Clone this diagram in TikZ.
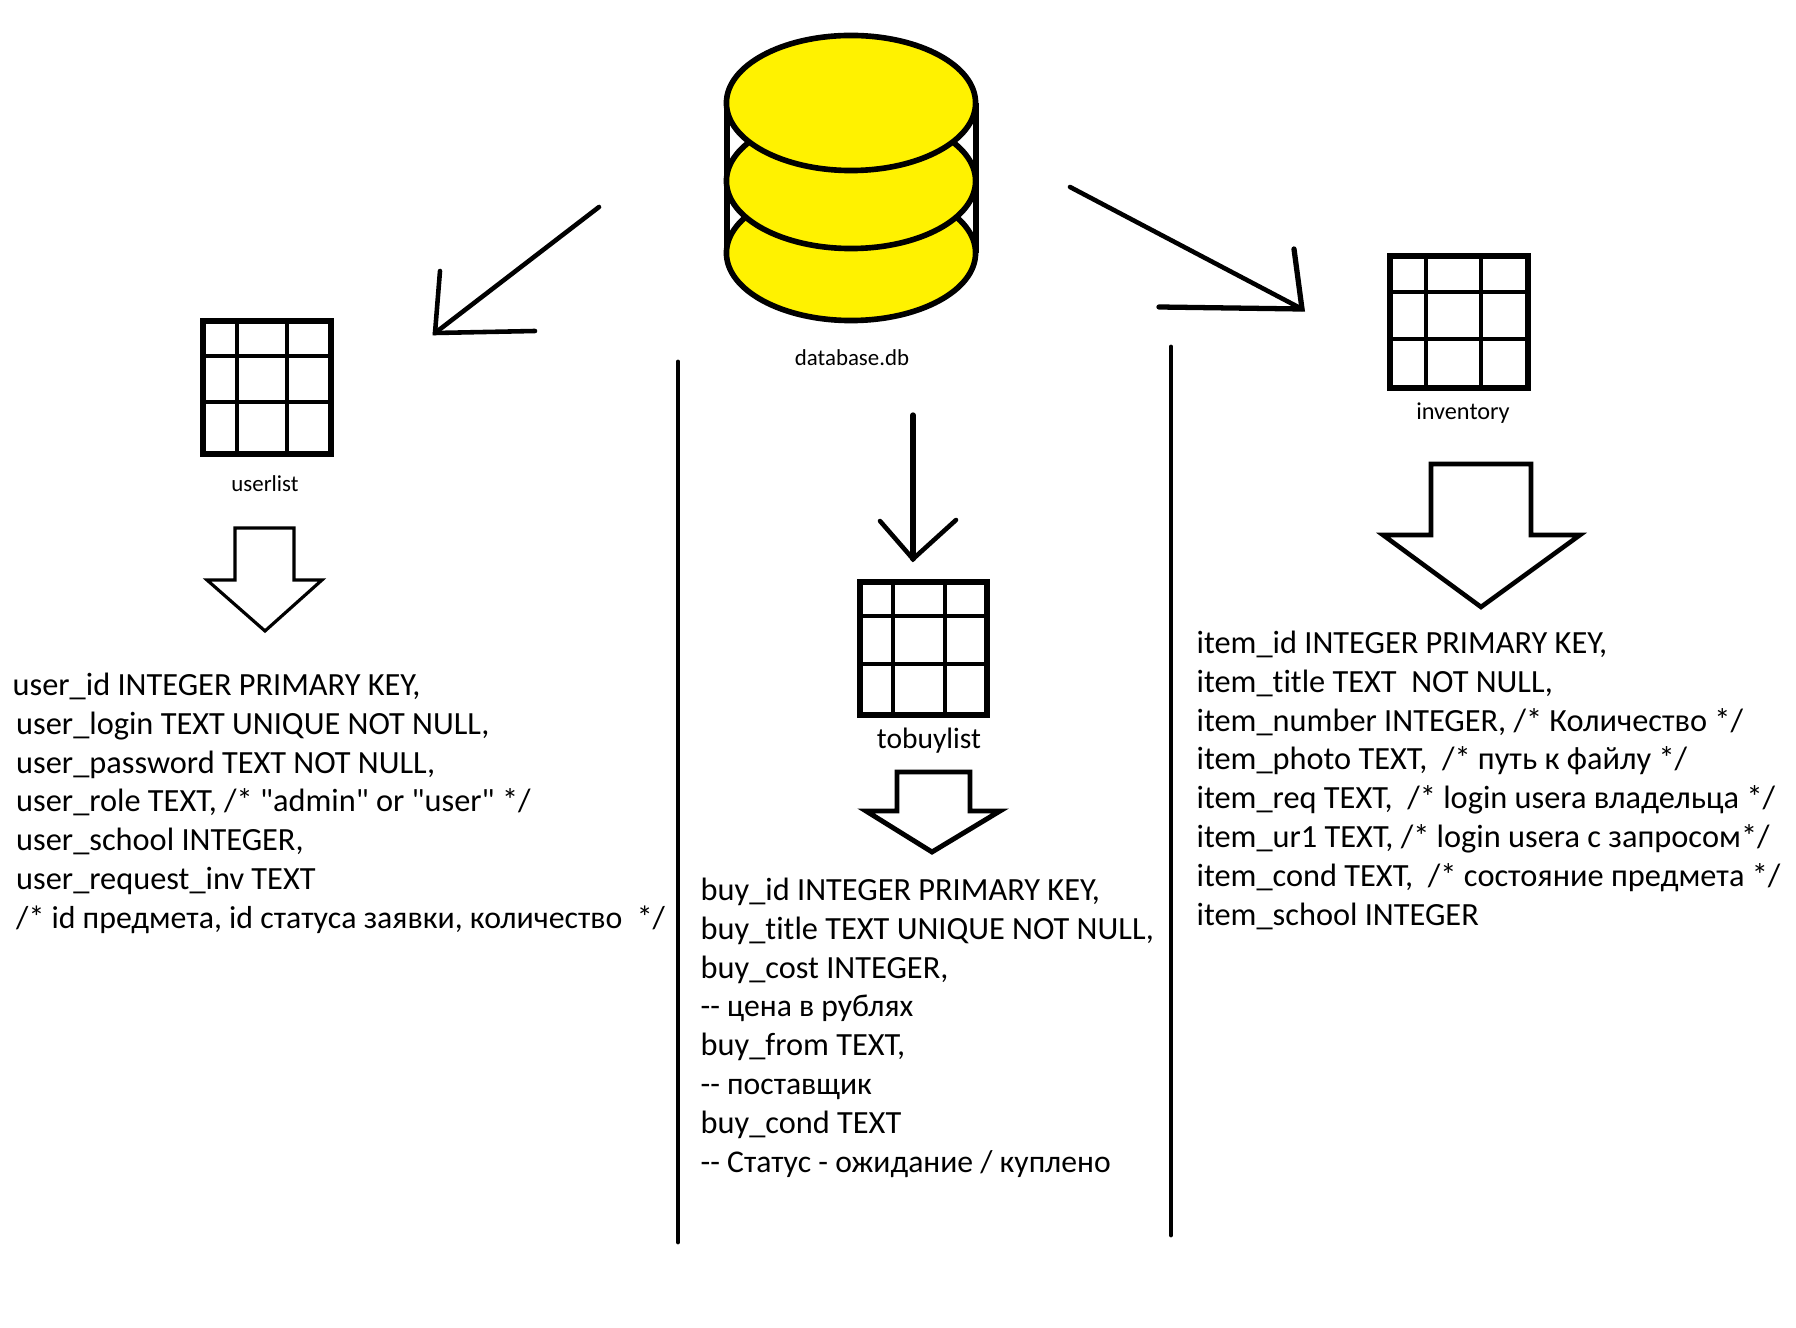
\documentclass[tikz,border=0pt]{standalone}
\usepackage{fontspec}
\usepackage{xcolor}
\usepackage{tikz}
\usetikzlibrary{shapes.geometric}
\setmainfont{Carlito}
\newfontfamily\fieldfont[Ligatures=NoCommon]{Carlito}
\definecolor{diskyellow}{HTML}{FFF200}

\begin{document}
\begin{tikzpicture}[
    x=0.01cm,
    y=-0.01cm,
    disk/.style={
        draw,
        ellipse,
        fill=diskyellow,
        line width=1.6pt,
        inner sep=0pt,
        minimum width=2.49cm,
        minimum height=1.35cm
    },
    tablebox/.style={
        draw,
        line width=1.5pt,
        inner sep=0pt
    },
    gridline/.style={
        line width=1.4pt
    },
    caption/.style={
        inner sep=0pt,
        font=\fieldfont\fontsize{6.5pt}{8pt}\selectfont
    },
    fields/.style={
        anchor=north west,
        align=left,
        inner sep=0pt,
        font=\fieldfont\fontsize{9.2pt}{11.07pt}\selectfont
    },
    blockarrow/.style={
        draw,
        line join=miter
    },
    barb/.style={
        line width=1.3pt,
        line cap=round
    },
    divider/.style={
        line width=1.4pt,
        line cap=round
    }
]

\useasboundingbox (0,0) rectangle (1796,1328);

% ==================================================
% Database
% ==================================================

\draw[line width=1.6pt] (727,103) -- (727,253);
\draw[line width=1.6pt] (976,103) -- (976,253);

\node[disk] (dbbottom) at (851,253) {};
\node[disk] (dbmiddle) at (851,181) {};
\node[disk] (dbtop) at (851,103) {};

\node[caption] (dbname) at (852,358) {database.db};


% ==================================================
% Tables
% ==================================================

\node[
    tablebox,
    minimum width=1.28cm,
    minimum height=1.33cm
] (userlist) at (267,387.5) {};

\draw[gridline] (237,320) -- (237,455);
\draw[gridline] (287,320) -- (287,455);
\draw[gridline] (203,356) -- (331,356);
\draw[gridline] (203,402) -- (331,402);

\node[caption] (username) at (265,484) {userlist};


\node[
    tablebox,
    minimum width=1.27cm,
    minimum height=1.33cm
] (tobuylist) at (923.5,648.5) {};

\draw[gridline] (893,582) -- (893,715);
\draw[gridline] (945,582) -- (945,715);
\draw[gridline] (860,616) -- (987,616);
\draw[gridline] (860,664) -- (987,664);

\node[caption, font=\fieldfont\fontsize{8.4pt}{9pt}\selectfont] (buyname) at (929,741) {tobuylist};


\node[
    tablebox,
    minimum width=1.38cm,
    minimum height=1.32cm
] (inventory) at (1459,322) {};

\draw[gridline] (1426,256) -- (1426,388);
\draw[gridline] (1481,256) -- (1481,388);
\draw[gridline] (1390,292) -- (1528,292);
\draw[gridline] (1390,339) -- (1528,339);

\node[caption, font=\fieldfont\fontsize{6.9pt}{8pt}\selectfont] (itemname) at (1463,413) {inventory};


% ==================================================
% Arrows from the database
% ==================================================

\coordinate (leftstart) at (599,207);
\coordinate (lefttip) at (435,333);
\coordinate (leftbarba) at (440,271);
\coordinate (leftbarbb) at (535,331);

\draw[barb] (leftstart) -- (lefttip);
\draw[barb] (leftbarba) -- (lefttip) -- (leftbarbb);

\coordinate (midstart) at (913,415);
\coordinate (midtip) at (913,559);
\coordinate (midbarba) at (880,521);
\coordinate (midbarbb) at (956,520);

\draw[barb, line width=1.5pt] (midstart) -- (midtip);
\draw[barb] (midbarba) -- (midtip) -- (midbarbb);

\coordinate (rightstart) at (1070,187);
\coordinate (righttip) at (1302,309);
\coordinate (rightbarba) at (1294,249);
\coordinate (rightbarbb) at (1159,307);

\draw[barb] (rightstart) -- (righttip);
\draw[barb, line width=1.5pt] (rightbarba) -- (righttip) -- (rightbarbb);


% ==================================================
% Block arrows
% ==================================================

\draw[blockarrow, line width=0.9pt]
    (235,528) -- (294,528) -- (294,580) -- (322,580)
    -- (265,631) -- (207,580) -- (235,580) -- cycle;

\draw[blockarrow, line width=1.4pt]
    (897,772) -- (970,772) -- (970,811) -- (1000,811)
    -- (932,852) -- (866,811) -- (897,811) -- cycle;

\draw[blockarrow, line width=1.3pt]
    (1431,464) -- (1531,464) -- (1531,535) -- (1580,535)
    -- (1481,607) -- (1383,535) -- (1431,535) -- cycle;


% ==================================================
% Dividers
% ==================================================

\coordinate (dividerAtop) at (678,362);
\coordinate (dividerAbottom) at (678,1242);
\coordinate (dividerBtop) at (1171,347);
\coordinate (dividerBbottom) at (1171,1235);

\draw[divider] (dividerAtop) -- (dividerAbottom);
\draw[divider] (dividerBtop) -- (dividerBbottom);


% ==================================================
% Field lists
% ==================================================

\node[fields] (userfields) at (12,672)
{
    user\_id INTEGER PRIMARY KEY,\\
    \hspace*{1pt}user\_login TEXT UNIQUE NOT NULL,\\
    \hspace*{1pt}user\_password TEXT NOT NULL,\\
    \hspace*{1pt}user\_role TEXT, /* "admin" or "user" */\\
    \hspace*{1pt}user\_school INTEGER,\\
    \hspace*{1pt}user\_request\_inv TEXT\\
    \hspace*{1pt}{\fontsize{9.05pt}{11.07pt}\selectfont /* id предмета, id статуса заявки, количество\ \ */}
};


\node[fields] (buyfields) at (700,877)
{
    buy\_id INTEGER PRIMARY KEY,\\
    buy\_title TEXT UNIQUE NOT NULL,\\
    buy\_cost INTEGER,\\
    {\fontsize{9pt}{11.07pt}\selectfont -{}- цена в рублях}\\
    buy\_from TEXT,\\
    {\fontsize{9pt}{11.07pt}\selectfont -{}- поставщик}\\
    buy\_cond TEXT\\
    {\fontsize{9pt}{11.07pt}\selectfont -{}- Статус - ожидание / куплено}
};


\node[fields] (itemfields) at (1196,630)
{
    item\_id INTEGER PRIMARY KEY,\\
    item\_title TEXT\ \ NOT NULL,\\
    item\_number INTEGER, /* Количество */\\
    item\_photo TEXT,\ \ /* путь к файлу */\\
    item\_req TEXT,\ \ /* login usera владельца */\\
    item\_ur1 TEXT, /* login usera с запросом*/\\
    item\_cond TEXT,\ \ /* состояние предмета */\\
    item\_school INTEGER
};

\end{tikzpicture}
\end{document}
